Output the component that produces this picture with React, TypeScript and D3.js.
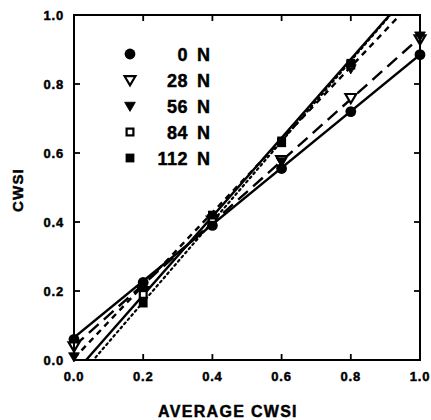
import React from "react";
import * as d3 from "d3";

const xValues = [0, 0.2, 0.4, 0.6, 0.8, 1.0];
const seriesNames = ["0", "28", "56", "84", "112"];
const n0 = [0.06, 0.225, 0.39, 0.555, 0.72, 0.885];
const n28 = [0.04, 0.2, 0.405, 0.58, 0.76, 0.93];
const n56 = [0.01, 0.2, 0.41, 0.575, 0.845, 0.94];
const n84 = [-0.07, 0.19, 0.41, 0.63, 0.855, 1.1];
const n112 = [-0.04, 0.165, 0.42, 0.635, 0.86, 1.1];
const fitIntercepts = [0.065, 0.04, 0.005, -0.065, -0.04];
const fitSlopes = [0.82, 0.895, 1.056, 1.165, 1.14];
const tickValues = [0, 0.2, 0.4, 0.6, 0.8, 1.0];

const W = 431, H = 420;
const left = 74, right = 420, top = 15, bottom = 360;
const FONT = "'Liberation Sans', Arial, sans-serif";

const markerKinds = ["circle", "triOpen", "triFilled", "sqOpen", "sqFilled"];
const dashes = ["none", "13,7", "6,5", "2,3.5", "none"];

function Marker({ kind, x, y }: { kind: string; x: number; y: number }) {
  if (kind === "circle") return <circle cx={x} cy={y} r={5.4} fill="#000" />;
  if (kind === "triOpen" || kind === "triFilled") {
    const s = 5.4;
    const p = `M${x - s},${y - s * 0.7}L${x + s},${y - s * 0.7}L${x},${y + s * 1.0}Z`;
    return kind === "triOpen" ? (
      <path d={p} fill="#fff" stroke="#000" strokeWidth={2.2} strokeLinejoin="miter" />
    ) : (
      <path d={p} fill="#000" stroke="#000" strokeWidth={0.8} />
    );
  }
  const s = 4.4;
  return kind === "sqOpen" ? (
    <rect x={x - s + 1} y={y - s + 1} width={2 * s - 2} height={2 * s - 2} fill="#fff" stroke="#000" strokeWidth={2.2} />
  ) : (
    <rect x={x - s} y={y - s} width={2 * s} height={2 * s} fill="#000" />
  );
}

const textStyle = { stroke: "#000", strokeWidth: 0.45 } as const;

export default function App() {
  const x = d3.scaleLinear().domain([0, 1]).range([left, right]);
  const y = d3.scaleLinear().domain([0, 1]).range([bottom, top]);
  const series = [n0, n28, n56, n84, n112];

  const fitPath = (k: number) => {
    const gen = d3
      .line<number>()
      .x((d) => x(d))
      .y((d) => y(fitIntercepts[k] + fitSlopes[k] * d));
    return gen([0, 1]) || "";
  };

  const tickLen = 6;
  return (
    <svg width={W} height={H} style={{ position: "absolute", left: 0, top: 0, background: "#fff" }}>
      <defs>
        <clipPath id="plotClip">
          <rect x={left} y={top} width={right - left} height={bottom - top} />
        </clipPath>
      </defs>
      <rect x={0} y={0} width={W} height={H} fill="#fff" />
      <g clipPath="url(#plotClip)">
        {seriesNames.map((_, k) => (
          <path
            key={k}
            d={fitPath(k)}
            fill="none"
            stroke="#000"
            strokeWidth={k === 3 ? 2.2 : 2.4}
            strokeDasharray={dashes[k] === "none" ? undefined : dashes[k]}
            strokeLinecap={k === 3 ? "round" : "butt"}
          />
        ))}
      </g>
      {series.map((vals, k) =>
        vals.map((v, i) =>
          v >= -0.01 && v <= 1.01 ? <Marker key={`${k}-${i}`} kind={markerKinds[k]} x={x(xValues[i])} y={y(v)} /> : null
        )
      )}
      <rect x={left} y={top} width={right - left} height={bottom - top} fill="none" stroke="#000" strokeWidth={2} />
      {tickValues.map((t, i) => (
        <g key={i} stroke="#000" strokeWidth={1.8}>
          <line x1={x(t)} x2={x(t)} y1={bottom} y2={bottom - tickLen} />
          <line x1={x(t)} x2={x(t)} y1={top} y2={top + tickLen} />
          <line x1={left} x2={left + tickLen} y1={y(t)} y2={y(t)} />
          <line x1={right} x2={right - tickLen} y1={y(t)} y2={y(t)} />
        </g>
      ))}
      {tickValues.map((t, i) => (
        <text
          key={`xl${i}`}
          x={x(t)}
          y={381}
          textAnchor="middle"
          fontFamily={FONT}
          fontWeight="bold"
          fontSize={13}
          letterSpacing={0.8}
          style={textStyle}
        >
          {d3.format(".1f")(t)}
        </text>
      ))}
      {tickValues.map((t, i) => (
        <text
          key={`yl${i}`}
          x={64}
          y={y(t) + 4.5}
          textAnchor="end"
          fontFamily={FONT}
          fontWeight="bold"
          fontSize={13}
          letterSpacing={0.8}
          style={textStyle}
        >
          {d3.format(".1f")(t)}
        </text>
      ))}
      <text
        x={228}
        y={417}
        textAnchor="middle"
        fontFamily={FONT}
        fontWeight="bold"
        fontSize={16}
        letterSpacing={1.3}
        style={textStyle}
      >
        AVERAGE CWSI
      </text>
      <text
        transform={`translate(23,190) rotate(-90)`}
        textAnchor="middle"
        fontFamily={FONT}
        fontWeight="bold"
        fontSize={15}
        letterSpacing={1.2}
        style={textStyle}
      >
        CWSI
      </text>
      {seriesNames.map((name, k) => {
        const ly = 54 + k * 26;
        return (
          <g key={`lg${k}`}>
            <Marker kind={markerKinds[k]} x={130} y={ly} />
            <text x={188} y={ly + 6.5} textAnchor="end" fontFamily={FONT} fontWeight="bold" fontSize={18} letterSpacing={0.5} style={textStyle}>
              {name}
            </text>
            <text x={197} y={ly + 6.5} fontFamily={FONT} fontWeight="bold" fontSize={18} style={textStyle}>
              N
            </text>
          </g>
        );
      })}
    </svg>
  );
}
